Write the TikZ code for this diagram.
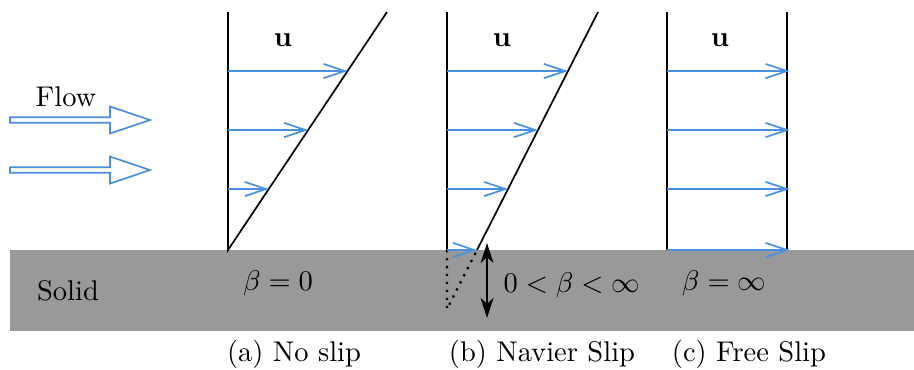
\documentclass[tikz,border=0pt]{standalone}
\usepackage{amsmath}
\usetikzlibrary{arrows.meta,calc}
\definecolor{flowblue}{HTML}{4A90E2}
\definecolor{solidgray}{HTML}{999999}

\begin{document}
\begin{tikzpicture}[scale=0.74,
  wall/.style={black,semithick},
  vel/.style={flowblue,semithick,-{Straight Barb[length=7.5pt,width=5pt]}}]
  \useasboundingbox (-3.8,-1.983) rectangle (11.433,4.167);
  % solid substrate
  \fill[solidgray] (-3.633,0) rectangle (11.433,-1.35);
  \node (solid) at (-2.667,-0.683) {Solid};
  % incoming flow
  \node (flow) at (-2.7,2.55) {Flow};
  \foreach \y in {2.167,1.333} {
    \draw[flowblue,semithick] (-3.633,\y+0.045) -- (-1.967,\y+0.045) -- (-1.967,\y+0.225)
      -- (-1.3,\y) -- (-1.967,\y-0.225) -- (-1.967,\y-0.045) -- (-3.633,\y-0.045) -- cycle;
  }
  % (a) no slip
  \coordinate (a0) at (0,0);
  \coordinate (atop) at (0,3.967);
  \coordinate (aend) at (2.65,3.967);
  \draw[wall] (atop) -- (a0) -- (aend);
  \foreach \y in {2.983,2.0,1.017}
    \draw[vel] (0,\y) -- ({0.668*\y},\y);
  \node (ua) at (0.917,3.5) {$\mathbf{u}$};
  \node (betaa) at (0.833,-0.55) {$\beta=0$};
  \node (capa) at (1.1,-1.733) {(a) No slip};
  % (b) Navier slip
  \coordinate (b0) at (3.65,0);
  \coordinate (btop) at (3.65,3.967);
  \coordinate (bslip) at (4.15,0);
  \coordinate (bend) at (6.167,3.967);
  \coordinate (bdepth) at (3.65,-0.983);
  \draw[wall] (btop) -- (b0);
  \draw[wall] (bslip) -- (bend);
  \draw[dotted,thick] (b0) -- (bdepth) -- (bslip);
  \foreach \y in {2.983,2.0,1.017,0}
    \draw[vel] (3.65,\y) -- ({4.15+0.508*\y},\y);
  \coordinate (lup) at (4.317,0.117);
  \coordinate (ldown) at (4.317,-1.133);
  \draw[semithick,{Stealth[length=7pt,width=4.5pt,inset=2pt]}-{Stealth[length=7pt,width=4.5pt,inset=2pt]}] (lup) -- (ldown);
  \node (ub) at (4.567,3.5) {$\mathbf{u}$};
  \node (betab) at (5.73,-0.583) {$0<\beta<\infty$};
  \node (capb) at (5.233,-1.733) {(b) Navier Slip};
  % (c) free slip
  \coordinate (c0) at (7.317,0);
  \coordinate (ctop) at (7.317,3.967);
  \coordinate (d0) at (9.317,0);
  \coordinate (dtop) at (9.317,3.967);
  \draw[wall] (ctop) -- (c0);
  \draw[wall] (dtop) -- (d0);
  \foreach \y in {2.983,2.0,1.017,0}
    \draw[vel] (7.317,\y) -- (9.36,\y);
  \node (uc) at (8.2,3.5) {$\mathbf{u}$};
  \node (betac) at (8.267,-0.55) {$\beta=\infty$};
  \node (capc) at (8.683,-1.733) {(c) Free Slip};
\end{tikzpicture}
\end{document}
